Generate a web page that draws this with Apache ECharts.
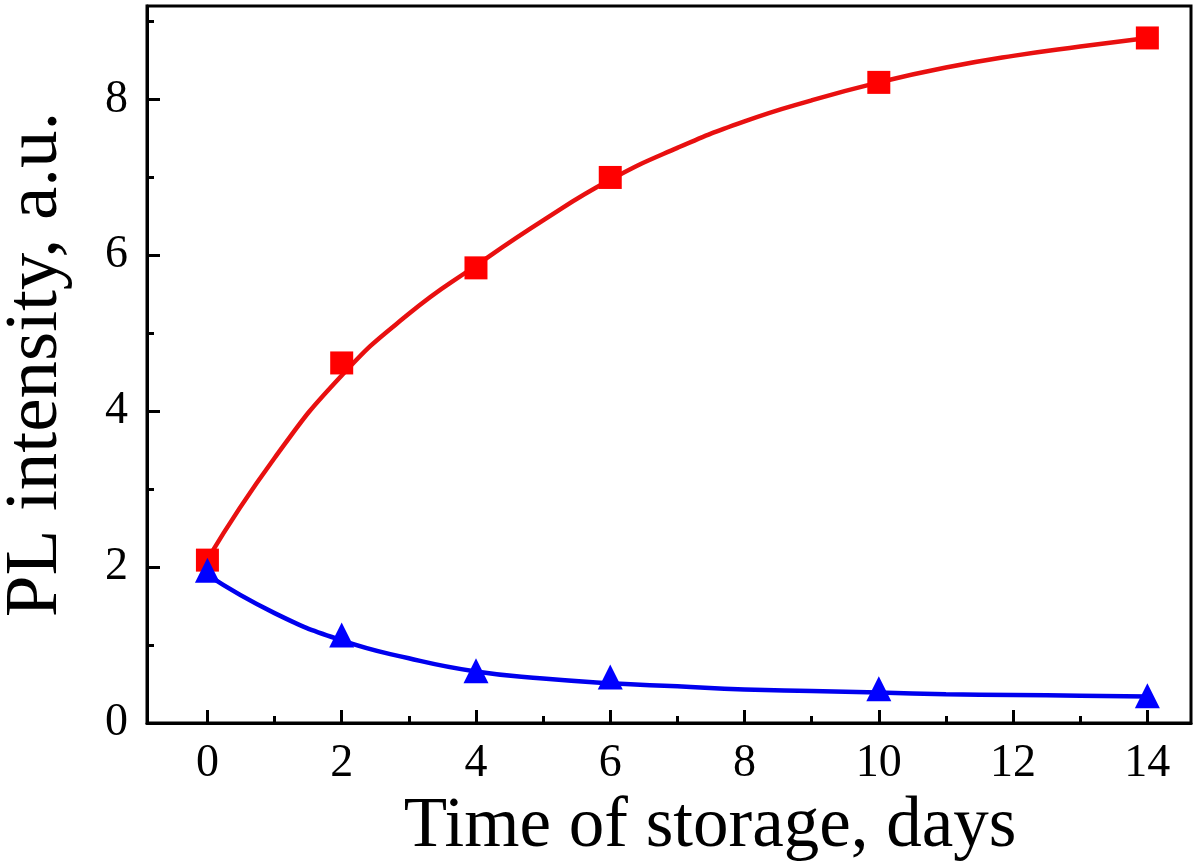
<!DOCTYPE html>
<html>
<head>
<meta charset="utf-8">
<script src="https://cdn.jsdelivr.net/npm/echarts@6/dist/echarts.min.js"></script>
<style>html,body{margin:0;padding:0;background:#fff;}#c{width:1200px;height:865px;}</style>
</head>
<body>
<div id="c"></div>
<script>
// measured data points
const days = [0, 2, 4, 6, 10, 14];
const redValues = [2.09, 4.62, 5.84, 7.0, 8.22, 8.79];
const blueValues = [1.96, 1.13, 0.67, 0.59, 0.44, 0.35];
// fitted curves at each day
const fitDays = [0, 1, 2, 3, 4, 5, 6, 7, 8, 9, 10, 11, 12, 13, 14];
const redFit = [2.10, 3.40, 4.46, 5.25, 5.87, 6.45, 6.97, 7.38, 7.72, 7.99, 8.22, 8.41, 8.56, 8.68, 8.79];
const blueFit = [1.90, 1.41, 1.06, 0.83, 0.66, 0.57, 0.51, 0.47, 0.43, 0.41, 0.39, 0.37, 0.36, 0.35, 0.34];
// tick labels
const xMajorTicks = [0, 2, 4, 6, 8, 10, 12, 14];
const xMinorTicks = [1, 3, 5, 7, 9, 11, 13];
const yMajorTicks = [0, 2, 4, 6, 8];
const yMinorTicks = [1, 3, 5, 7, 9];

const FONT = '"Liberation Serif", "Times New Roman", serif';
const chart = echarts.init(document.getElementById('c'));
const pair = (xs, ys) => xs.map((x, i) => [x, ys[i]]);

const xBase = {type: 'value', min: -0.9, max: 14.65, splitLine: {show: false}};
const yBase = {type: 'value', min: 0, max: 9.2, splitLine: {show: false}};

chart.setOption({
  animation: false,
  backgroundColor: '#fff',
  grid: {left: 147, top: 6, right: 9, bottom: 142, outerBoundsMode: 'none', containLabel: false,
         show: true, borderColor: '#000', borderWidth: 3, backgroundColor: 'transparent'},
  xAxis: [
    Object.assign({}, xBase, {
      position: 'bottom',
      name: 'Time of storage, days',
      nameLocation: 'middle',
      nameGap: 55,
      nameTextStyle: {fontFamily: FONT, fontSize: 71, color: '#000', padding: [0, 0, 0, 82]},
      axisLine: {show: true, onZero: false, lineStyle: {color: '#000', width: 3}},
      axisTick: {show: true, inside: true, length: 13, lineStyle: {color: '#000', width: 3}, customValues: xMajorTicks},
      axisLabel: {show: true, margin: 18, fontFamily: FONT, fontSize: 46, color: '#000', customValues: xMajorTicks}
    }),
    Object.assign({}, xBase, {
      position: 'bottom',
      axisLine: {show: false, onZero: false},
      axisTick: {show: true, inside: true, length: 7, lineStyle: {color: '#000', width: 3}, customValues: xMinorTicks},
      axisLabel: {show: false}
    })
  ],
  yAxis: [
    Object.assign({}, yBase, {
      position: 'left',
      name: 'PL intensity, a.u.',
      nameLocation: 'middle',
      nameGap: 73,
      nameTextStyle: {fontFamily: FONT, fontSize: 75, color: '#000'},
      axisLine: {show: true, onZero: false, lineStyle: {color: '#000', width: 3}},
      axisTick: {show: true, inside: true, length: 13, lineStyle: {color: '#000', width: 3}, customValues: yMajorTicks},
      axisLabel: {show: true, margin: 19, fontFamily: FONT, fontSize: 46, color: '#000', customValues: yMajorTicks}
    }),
    Object.assign({}, yBase, {
      position: 'left',
      axisLine: {show: false, onZero: false},
      axisTick: {show: true, inside: true, length: 7, lineStyle: {color: '#000', width: 3}, customValues: yMinorTicks},
      axisLabel: {show: false}
    })
  ],
  series: [
    {
      type: 'line', data: pair(fitDays, redFit), smooth: 0.5, symbol: 'none',
      lineStyle: {color: '#e81010', width: 4.5}, z: 2
    },
    {
      type: 'line', data: pair(fitDays, blueFit), smooth: 0.5, symbol: 'none',
      lineStyle: {color: '#0000ee', width: 4.5}, z: 2
    },
    {
      type: 'scatter', data: pair(days, redValues),
      symbol: 'rect', symbolSize: 23, itemStyle: {color: '#ff0000', opacity: 1}, z: 3
    },
    {
      type: 'scatter', data: pair(days, blueValues),
      symbol: 'triangle', symbolSize: 25, itemStyle: {color: '#0000ff', opacity: 1}, z: 4
    }
  ]
});
</script>
</body>
</html>
